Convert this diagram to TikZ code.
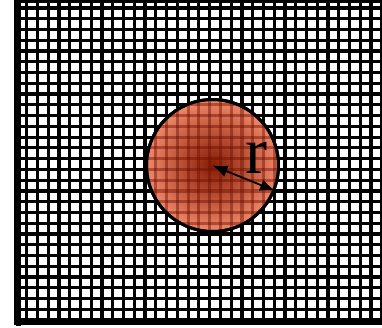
\documentclass[tikz,border=0pt]{standalone}
\usepackage{fontspec}
\setmainfont{Liberation Serif}
\usetikzlibrary{arrows.meta}
\definecolor{diskin}{RGB}{135,28,6}
\definecolor{diskout}{RGB}{240,135,105}
\definecolor{gridover}{RGB}{110,15,0}
\tikzset{
  gridline/.style={line width=3.2pt, black},
  overline/.style={line width=3.2pt, gridover, opacity=0.45},
  frameline/.style={black},
  disk/.style={circle, minimum size=132pt, inner sep=0pt, draw=black, line width=3pt,
    shade, inner color=diskin, outer color=diskout},
  radius arrow/.style={line width=1.8pt, {Latex[length=15pt,width=12pt]}-{Latex[length=15pt,width=12pt]}},
  rlabel/.style={inner sep=0pt, font=\fontsize{66}{66}\selectfont}
}
\begin{document}
\begin{tikzpicture}[x=1pt,y=-1pt]
\useasboundingbox (0,0) rectangle (382,327);
\clip (0,0) rectangle (382,327);
\fill[white] (0,0) rectangle (382,327);
% grid
\foreach \k in {0,...,34} \draw[gridline] ({15.94+10.76*\k},0) -- ({15.94+10.76*\k},325);
\foreach \k in {0,...,29} \draw[gridline] (15,{8+10.76*\k}) -- (390,{8+10.76*\k});
% frame
\draw[frameline, line width=5pt] (18.5,-1) -- (18.5,326);
\draw[frameline, line width=3pt] (16,1) -- (390,1);
\draw[frameline, line width=3pt] (16,323.5) -- (390,323.5);
% disk
\node[disk] (disk) at (212.5,165.5) {};
\begin{scope}
\clip (disk.center) circle[radius=64.5];
\foreach \k in {0,...,34} \draw[overline] ({15.94+10.76*\k},0) -- ({15.94+10.76*\k},325);
\foreach \k in {0,...,29} \draw[overline] (15,{8+10.76*\k}) -- (390,{8+10.76*\k});
\end{scope}
\draw[line width=3pt] (disk.center) circle[radius=66];
% radius arrow
\draw[radius arrow] (disk.center) -- (disk.-22.6);
\node[rlabel] (r) at (256,158) {r};
\end{tikzpicture}
\end{document}
